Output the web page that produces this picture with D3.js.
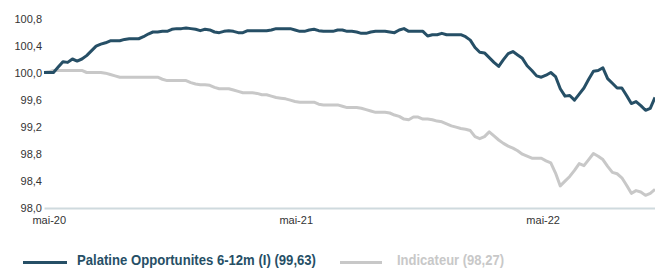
<!DOCTYPE html>
<html><head><meta charset="utf-8">
<script src="https://cdn.jsdelivr.net/npm/d3@7"></script>
<style>body{margin:0;background:#fff}svg{display:block}</style>
</head><body>
<svg id="chart" width="655" height="268"></svg>
<script>
const dates = [
"2020-04-24","2020-05-01","2020-05-08","2020-05-15","2020-05-22","2020-05-29","2020-06-05","2020-06-12","2020-06-19","2020-06-26",
"2020-07-03","2020-07-10","2020-07-17","2020-07-24","2020-07-31","2020-08-07","2020-08-14","2020-08-21","2020-08-28","2020-09-04",
"2020-09-11","2020-09-18","2020-09-25","2020-10-02","2020-10-09","2020-10-16","2020-10-23","2020-10-30","2020-11-06","2020-11-13",
"2020-11-20","2020-11-27","2020-12-04","2020-12-11","2020-12-18","2020-12-25","2021-01-01","2021-01-08","2021-01-15","2021-01-22",
"2021-01-29","2021-02-05","2021-02-12","2021-02-19","2021-02-26","2021-03-05","2021-03-12","2021-03-19","2021-03-26","2021-04-02",
"2021-04-09","2021-04-16","2021-04-23","2021-04-30","2021-05-07","2021-05-14","2021-05-21","2021-05-28","2021-06-04","2021-06-11",
"2021-06-18","2021-06-25","2021-07-02","2021-07-09","2021-07-16","2021-07-23","2021-07-30","2021-08-06","2021-08-13","2021-08-20",
"2021-08-27","2021-09-03","2021-09-10","2021-09-17","2021-09-24","2021-10-01","2021-10-08","2021-10-15","2021-10-22","2021-10-29",
"2021-11-05","2021-11-12","2021-11-19","2021-11-26","2021-12-03","2021-12-10","2021-12-17","2021-12-24","2021-12-31","2022-01-07",
"2022-01-14","2022-01-21","2022-01-28","2022-02-04","2022-02-11","2022-02-18","2022-02-25","2022-03-04","2022-03-11","2022-03-18",
"2022-03-25","2022-04-01","2022-04-08","2022-04-15","2022-04-22","2022-04-29","2022-05-06","2022-05-13","2022-05-20","2022-05-27",
"2022-06-03","2022-06-10","2022-06-17","2022-06-24","2022-07-01","2022-07-08","2022-07-15","2022-07-22","2022-07-29","2022-08-05",
"2022-08-12","2022-08-19","2022-08-26","2022-09-02","2022-09-09","2022-09-16","2022-09-23","2022-09-30","2022-10-07","2022-10-14"
];
const fund = [
100.00,100.00,100.00,100.08,100.16,100.15,100.20,100.17,100.20,100.25,
100.32,100.39,100.42,100.44,100.47,100.47,100.47,100.49,100.50,100.50,
100.50,100.53,100.57,100.60,100.60,100.61,100.61,100.64,100.65,100.65,
100.66,100.65,100.64,100.62,100.64,100.63,100.60,100.59,100.61,100.62,
100.61,100.59,100.59,100.62,100.62,100.62,100.62,100.62,100.63,100.65,
100.65,100.65,100.65,100.63,100.61,100.61,100.63,100.64,100.62,100.61,
100.61,100.61,100.63,100.63,100.61,100.61,100.60,100.58,100.58,100.60,
100.61,100.61,100.61,100.60,100.59,100.63,100.65,100.61,100.61,100.61,
100.61,100.54,100.56,100.56,100.58,100.56,100.56,100.56,100.56,100.53,
100.48,100.37,100.30,100.29,100.22,100.15,100.09,100.19,100.28,100.31,
100.26,100.21,100.10,100.03,99.95,99.93,99.96,100.00,99.94,99.76,
99.65,99.66,99.59,99.68,99.77,99.90,100.02,100.03,100.07,99.91,
99.84,99.77,99.77,99.66,99.54,99.57,99.51,99.44,99.47,99.63
];
const indicator = [
100.00,100.01,100.03,100.03,100.03,100.03,100.03,100.03,100.03,100.00,
100.00,100.00,100.00,99.99,99.97,99.95,99.93,99.93,99.93,99.93,
99.93,99.93,99.93,99.93,99.93,99.90,99.88,99.88,99.88,99.88,
99.88,99.85,99.83,99.82,99.82,99.81,99.78,99.76,99.76,99.76,
99.74,99.72,99.70,99.70,99.70,99.69,99.67,99.67,99.65,99.63,
99.62,99.61,99.59,99.57,99.56,99.56,99.56,99.56,99.53,99.52,
99.52,99.52,99.52,99.50,99.48,99.48,99.48,99.47,99.45,99.43,
99.41,99.41,99.41,99.40,99.37,99.35,99.31,99.30,99.34,99.34,
99.31,99.31,99.30,99.28,99.27,99.24,99.21,99.19,99.17,99.16,
99.14,99.05,99.02,99.05,99.12,99.06,99.00,98.95,98.91,98.88,
98.84,98.79,98.76,98.73,98.73,98.73,98.69,98.66,98.51,98.32,
98.39,98.46,98.55,98.65,98.62,98.71,98.80,98.76,98.71,98.61,
98.52,98.50,98.44,98.33,98.21,98.25,98.23,98.18,98.21,98.27
];
const yTicks = [98.0, 98.4, 98.8, 99.2, 99.6, 100.0, 100.4, 100.8];
const xTickDates = ["2020-05-01","2021-05-01","2022-05-01"];
const seriesNames = ["Palatine Opportunites 6-12m (I) (99,63)", "Indicateur (98,27)"];
const seriesColors = ["#264f66", "#c8c8c8"];

const parse = d3.timeParse("%Y-%m-%d");
const D = dates.map(parse);
const svg = d3.select("#chart");

const x = d3.scaleTime().domain([D[0], D[D.length-1]]).range([44, 655]);
const y = d3.scaleLinear().domain([98, 100.8]).range([207.5, 18.5]);

const fmtY = v => d3.format(".1f")(v).replace(".", ",");
const monthFr = ["janv","févr","mars","avr","mai","juin","juil","août","sept","oct","nov","déc"];
const fmtX = d => monthFr[d.getMonth()] + "-" + d3.timeFormat("%y")(d);

// Y axis (labels only)
const yAxis = d3.axisLeft(y).tickValues(yTicks).tickFormat(fmtY).tickSize(0).tickPadding(0);
const gy = svg.append("g").attr("transform", "translate(42,0)").call(yAxis);
gy.select(".domain").remove();
gy.selectAll("text").attr("font-family", "Liberation Sans, Arial, sans-serif").attr("font-size", 11).attr("fill", "#333");

// X axis
const xAxis = d3.axisBottom(x).tickValues(xTickDates.map(parse)).tickFormat(fmtX).tickSize(0).tickPadding(8);
const gx = svg.append("g").attr("transform", "translate(0,208)").call(xAxis);
gx.select(".domain").attr("stroke", "#cfdade").attr("stroke-width", 2);
gx.selectAll("text").attr("font-family", "Liberation Sans, Arial, sans-serif").attr("font-size", 11).attr("fill", "#333");

const line = vals => d3.line().x((d, i) => x(D[i])).y(d => y(d))(vals);

svg.append("path").attr("d", line(indicator)).attr("fill", "none")
  .attr("stroke", seriesColors[1]).attr("stroke-width", 3).attr("stroke-linejoin", "round");
svg.append("path").attr("d", line(fund)).attr("fill", "none")
  .attr("stroke", seriesColors[0]).attr("stroke-width", 3).attr("stroke-linejoin", "round");

// Legend
const leg = [{x1: 23, x2: 67, tx: 77, w: 239}, {x1: 340, x2: 382, tx: 397, w: 107}];
leg.forEach((l, i) => {
  svg.append("line").attr("x1", l.x1).attr("x2", l.x2).attr("y1", 262.5).attr("y2", 262.5)
    .attr("stroke", seriesColors[i]).attr("stroke-width", 3);
  svg.append("text").attr("x", l.tx).attr("y", 265).text(seriesNames[i])
    .attr("font-family", "Liberation Sans, Arial, sans-serif")
    .attr("font-weight", "bold").attr("font-size", 14.5)
    .attr("textLength", l.w).attr("lengthAdjust", "spacingAndGlyphs")
    .attr("fill", seriesColors[i]);
});
</script>
</body></html>
